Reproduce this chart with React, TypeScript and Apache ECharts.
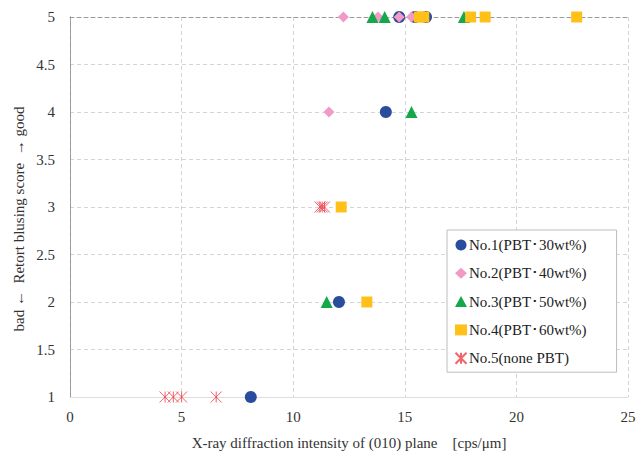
import React, { useEffect, useRef } from "react";
import * as echarts from "echarts";

const seriesNames = [
  "No.1(PBT\uff6530wt%)",
  "No.2(PBT\uff6540wt%)",
  "No.3(PBT\uff6550wt%)",
  "No.4(PBT\uff6560wt%)",
  "No.5(none PBT)",
];

const no1: [number, number][] = [
  [14.75, 5], [15.45, 5], [15.95, 5], [14.15, 4], [12.05, 2], [8.1, 1],
];
const no2: [number, number][] = [
  [12.25, 5], [13.8, 5], [14.75, 5], [15.3, 5], [11.6, 4],
];
const no3: [number, number][] = [
  [13.55, 5], [14.1, 5], [17.65, 5], [15.3, 4], [11.5, 2],
];
const no4: [number, number][] = [
  [15.65, 5], [15.85, 5], [17.95, 5], [18.6, 5], [22.7, 5], [12.15, 3], [13.3, 2],
];
const no5: [number, number][] = [
  [11.2, 3], [11.3, 3], [11.4, 3], [4.26, 1], [4.63, 1], [5.0, 1], [6.55, 1],
];

const xTicks = [0, 5, 10, 15, 20, 25];
const yTicks = [1, 1.5, 2, 2.5, 3, 3.5, 4, 4.5, 5];

const xTitle = "X-ray diffraction intensity of (010) plane\u3000[cps/\u03bcm]";
const yTitle = "bad \u2190  Retort blusing score  \u2192 good";

const colors = ["#2A4C9C", "#F29AC6", "#14A84B", "#FFC119", "#EE3B46"];
const FONT = "'Liberation Serif', 'Times New Roman', serif";

export default function App() {
  const ref = useRef<HTMLDivElement>(null);
  useEffect(() => {
    if (!ref.current) return;
    const chart = echarts.init(ref.current, undefined, { renderer: "svg" });
    const starPath = "path://M0,0L10,10M10,0L0,10M5,0L5,10";
    const datas = [no1, no2, no3, no4, no5];
    const symbols = ["circle", "diamond", "triangle", "rect", starPath];
    const sizes = [12, 11, 12, 11, 11];
    chart.setOption({
      animation: false,
      textStyle: { fontFamily: FONT },
      grid: { left: 70, right: 9, top: 17, bottom: 55, containLabel: false, outerBoundsMode: "none" },
      legend: {
        orient: "vertical",
        left: 447,
        top: 230,
        width: 165,
        padding: [7, 30, 6, 6],
        itemGap: 12.3,
        itemWidth: 12,
        itemHeight: 11,
        borderColor: "#BDBDBD",
        borderWidth: 1,
        backgroundColor: "#fff",
        textStyle: { fontFamily: FONT, fontSize: 15, lineHeight: 16, color: "#222", padding: [0, 0, 0, -3] },
        data: seriesNames,
      },
      graphic: [
        {
          type: "text",
          x: 19,
          y: 219,
          rotation: Math.PI / 2,
          style: {
            text: yTitle,
            fontFamily: FONT,
            fontSize: 15,
            fill: "#333",
            align: "center",
            verticalAlign: "middle",
          },
        },
      ],
      xAxis: [
        {
          type: "value",
          min: xTicks[0],
          max: xTicks[xTicks.length - 1],
          interval: 5,
          name: xTitle,
          nameLocation: "middle",
          nameGap: 38,
          nameTextStyle: { fontFamily: FONT, fontSize: 15, color: "#333" },
          axisLine: { show: true, lineStyle: { color: "#DDDDDD", width: 1 } },
          axisTick: { show: false },
          axisLabel: { fontFamily: FONT, fontSize: 15, color: "#333", margin: 12 },
          splitLine: { show: true, lineStyle: { color: "#D4D4D4", type: [4, 3] } },
        },
        {
          type: "value",
          position: "top",
          min: 0,
          max: 25,
          interval: 5,
          axisLine: { show: true, lineStyle: { color: "#999", type: [4, 3] } },
          axisTick: { show: false },
          axisLabel: { show: false },
          splitLine: { show: false },
        },
      ],
      yAxis: [
        {
          type: "value",
          min: yTicks[0],
          max: yTicks[yTicks.length - 1],
          interval: 0.5,
          axisLine: { show: true, lineStyle: { color: "#A6A6A6", width: 1 } },
          axisTick: { show: false },
          axisLabel: { fontFamily: FONT, fontSize: 15, color: "#333", margin: 15 },
          splitLine: { show: true, lineStyle: { color: "#D4D4D4", type: [4, 3] } },
        },
        {
          type: "value",
          position: "right",
          min: 1,
          max: 5,
          interval: 0.5,
          axisLine: { show: true, lineStyle: { color: "#999", type: [4, 3] } },
          axisTick: { show: false },
          axisLabel: { show: false },
          splitLine: { show: false },
        },
      ],
      series: datas.map((d, i) => ({
        name: seriesNames[i],
        type: "scatter",
        data: d,
        symbol: symbols[i],
        symbolSize: sizes[i],
        z: 2 + i,
        itemStyle:
          i === 4
            ? { color: "none", borderColor: colors[i], borderWidth: 1 }
            : { color: colors[i], opacity: 1 },
      })),
    });
    return () => chart.dispose();
  }, []);
  return <div ref={ref} style={{ width: 637, height: 452, position: "absolute", left: 0, top: 0 }} />;
}
